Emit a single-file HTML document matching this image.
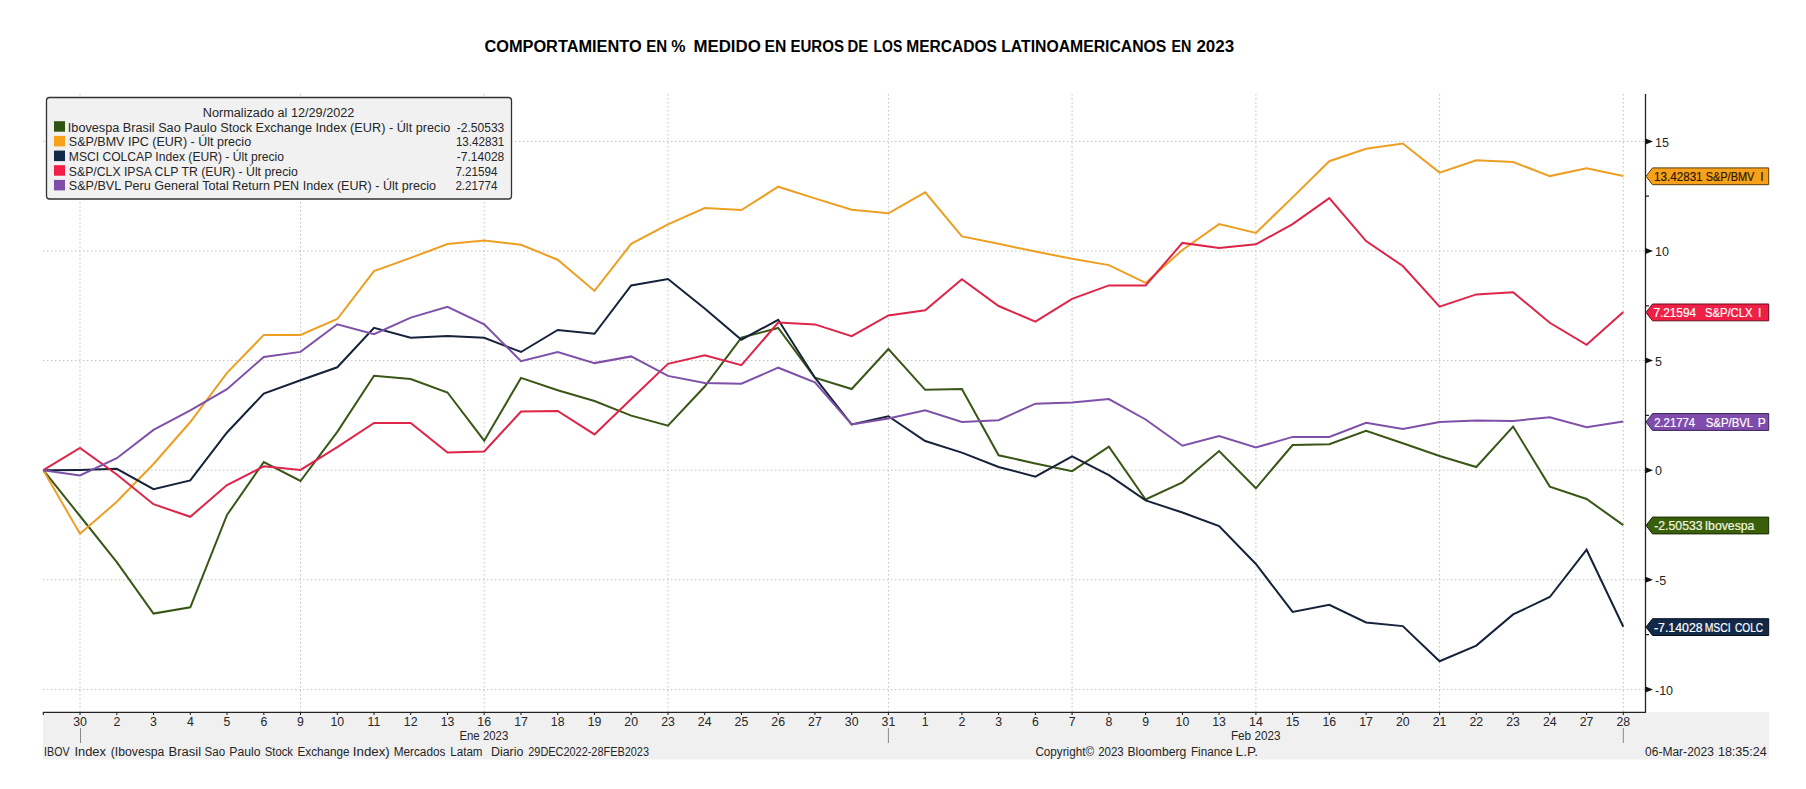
<!DOCTYPE html><html><head><meta charset="utf-8"><style>html,body{margin:0;padding:0;background:#fff;}svg{display:block;}text{font-family:"Liberation Sans",sans-serif;}</style></head><body>
<svg width="1806" height="789" viewBox="0 0 1806 789">
<rect x="0" y="0" width="1806" height="789" fill="#fff"/>
<text x="484.40" y="51.80" font-size="16" font-weight="bold" fill="#000" textLength="157.30" lengthAdjust="spacingAndGlyphs">COMPORTAMIENTO</text>
<text x="646.20" y="51.80" font-size="16" font-weight="bold" fill="#000" textLength="20.90" lengthAdjust="spacingAndGlyphs">EN</text>
<text x="671.20" y="51.80" font-size="16" font-weight="bold" fill="#000">%</text>
<text x="693.40" y="51.80" font-size="16" font-weight="bold" fill="#000" textLength="67.40" lengthAdjust="spacingAndGlyphs">MEDIDO</text>
<text x="764.50" y="51.80" font-size="16" font-weight="bold" fill="#000" textLength="21.80" lengthAdjust="spacingAndGlyphs">EN</text>
<text x="790.40" y="51.80" font-size="16" font-weight="bold" fill="#000" textLength="53.60" lengthAdjust="spacingAndGlyphs">EUROS</text>
<text x="847.60" y="51.80" font-size="16" font-weight="bold" fill="#000" textLength="20.70" lengthAdjust="spacingAndGlyphs">DE</text>
<text x="873.60" y="51.80" font-size="16" font-weight="bold" fill="#000" textLength="28.70" lengthAdjust="spacingAndGlyphs">LOS</text>
<text x="906.20" y="51.80" font-size="16" font-weight="bold" fill="#000" textLength="90.80" lengthAdjust="spacingAndGlyphs">MERCADOS</text>
<text x="1001.20" y="51.80" font-size="16" font-weight="bold" fill="#000" textLength="165.20" lengthAdjust="spacingAndGlyphs">LATINOAMERICANOS</text>
<text x="1171.40" y="51.80" font-size="16" font-weight="bold" fill="#000" textLength="19.90" lengthAdjust="spacingAndGlyphs">EN</text>
<text x="1196.40" y="51.80" font-size="16" font-weight="bold" fill="#000" textLength="37.70" lengthAdjust="spacingAndGlyphs">2023</text>
<rect x="43" y="712" width="1726" height="47.5" fill="#f0f0f0"/>
<path d="M43,141.4H1645 M43,251.0H1645 M43,360.6H1645 M43,470.2H1645 M43,579.8H1645 M43,689.4H1645 M80.0,94V712 M300.5,94V712 M484.2,94V712 M668.0,94V712 M888.4,94V712 M1072.1,94V712 M1255.9,94V712 M1439.6,94V712 M1623.3,94V712" stroke="#c0c0c0" stroke-width="1" stroke-dasharray="1.5,2.5" fill="none"/>
<polyline points="43.3,470.2 80.0,516.0 116.8,562.2 153.5,613.6 190.3,607.3 227.0,515.0 263.8,462.0 300.5,481.0 337.3,431.9 374.0,375.8 410.7,379.0 447.5,392.5 484.2,440.7 521.0,377.9 557.7,390.3 594.5,401.0 631.2,415.6 668.0,425.6 704.7,386.5 741.4,337.6 778.2,328.0 814.9,377.7 851.7,389.0 888.4,349.0 925.2,389.8 961.9,389.0 998.6,455.3 1035.4,463.4 1072.1,471.2 1108.9,446.7 1145.6,499.5 1182.4,482.3 1219.1,451.1 1255.9,488.3 1292.6,445.0 1329.3,444.3 1366.1,430.8 1402.8,443.2 1439.6,456.0 1476.3,467.0 1513.1,426.6 1549.8,486.6 1586.6,499.0 1623.3,525.1" fill="none" stroke="#3a5616" stroke-width="2" stroke-linejoin="miter"/>
<polyline points="43.3,470.2 80.0,533.8 116.8,501.8 153.5,464.0 190.3,422.0 227.0,372.9 263.8,334.9 300.5,334.9 337.3,319.0 374.0,271.1 410.7,257.9 447.5,244.1 484.2,240.5 521.0,244.8 557.7,259.7 594.5,290.9 631.2,243.8 668.0,224.3 704.7,208.0 741.4,210.1 778.2,186.7 814.9,198.4 851.7,209.8 888.4,213.3 925.2,192.4 961.9,236.4 998.6,243.8 1035.4,251.6 1072.1,258.7 1108.9,265.1 1145.6,282.9 1182.4,250.0 1219.1,224.1 1255.9,232.9 1292.6,197.4 1329.3,161.2 1366.1,148.8 1402.8,143.5 1439.6,172.6 1476.3,160.2 1513.1,162.0 1549.8,176.1 1586.6,168.3 1623.3,175.9" fill="none" stroke="#ec9f22" stroke-width="2" stroke-linejoin="miter"/>
<polyline points="43.3,470.2 80.0,469.9 116.8,468.8 153.5,489.2 190.3,480.4 227.0,432.5 263.8,393.5 300.5,380.3 337.3,367.3 374.0,327.9 410.7,337.8 447.5,336.0 484.2,337.8 521.0,352.0 557.7,330.0 594.5,333.8 631.2,285.4 668.0,279.0 704.7,308.4 741.4,339.7 778.2,319.8 814.9,377.7 851.7,424.5 888.4,416.2 925.2,441.0 961.9,452.6 998.6,467.0 1035.4,476.6 1072.1,456.3 1108.9,475.1 1145.6,500.4 1182.4,512.5 1219.1,526.0 1255.9,564.0 1292.6,611.9 1329.3,604.8 1366.1,622.5 1402.8,626.1 1439.6,661.2 1476.3,645.6 1513.1,614.4 1549.8,597.0 1586.6,549.7 1623.3,626.7" fill="none" stroke="#15223a" stroke-width="2" stroke-linejoin="miter"/>
<polyline points="43.3,470.2 80.0,447.9 116.8,474.5 153.5,504.2 190.3,516.8 227.0,485.1 263.8,466.3 300.5,469.9 337.3,447.1 374.0,423.0 410.7,423.0 447.5,452.5 484.2,451.4 521.0,411.6 557.7,410.9 594.5,434.4 631.2,399.0 668.0,363.8 704.7,355.3 741.4,365.2 778.2,322.6 814.9,324.4 851.7,336.1 888.4,315.5 925.2,310.2 961.9,279.3 998.6,306.0 1035.4,321.6 1072.1,298.9 1108.9,285.4 1145.6,285.4 1182.4,242.9 1219.1,247.9 1255.9,244.3 1292.6,224.1 1329.3,198.2 1366.1,241.1 1402.8,266.0 1439.6,306.6 1476.3,294.4 1513.1,292.2 1549.8,322.8 1586.6,344.8 1623.3,312.0" fill="none" stroke="#de2449" stroke-width="2" stroke-linejoin="miter"/>
<polyline points="43.3,470.2 80.0,475.4 116.8,458.2 153.5,429.9 190.3,410.4 227.0,389.2 263.8,356.9 300.5,351.9 337.3,324.3 374.0,334.2 410.7,317.6 447.5,306.9 484.2,324.3 521.0,361.2 557.7,352.0 594.5,363.1 631.2,356.4 668.0,375.9 704.7,383.0 741.4,383.7 778.2,367.7 814.9,382.3 851.7,424.5 888.4,418.4 925.2,410.2 961.9,422.0 998.6,420.2 1035.4,403.7 1072.1,402.6 1108.9,399.1 1145.6,419.5 1182.4,445.7 1219.1,436.1 1255.9,447.5 1292.6,436.9 1329.3,436.9 1366.1,422.7 1402.8,429.0 1439.6,422.0 1476.3,420.5 1513.1,420.9 1549.8,417.3 1586.6,427.3 1623.3,421.6" fill="none" stroke="#7e50a8" stroke-width="2" stroke-linejoin="miter"/>
<path d="M1645.5,94V712.5" stroke="#222" stroke-width="1.3" fill="none"/>
<path d="M43,712.3H1646" stroke="#222" stroke-width="1.3" fill="none"/>
<path d="M43.3,712V715 M80.0,712V715 M116.8,712V715 M153.5,712V715 M190.3,712V715 M227.0,712V715 M263.8,712V715 M300.5,712V715 M337.3,712V715 M374.0,712V715 M410.7,712V715 M447.5,712V715 M484.2,712V715 M521.0,712V715 M557.7,712V715 M594.5,712V715 M631.2,712V715 M668.0,712V715 M704.7,712V715 M741.4,712V715 M778.2,712V715 M814.9,712V715 M851.7,712V715 M888.4,712V715 M925.2,712V715 M961.9,712V715 M998.6,712V715 M1035.4,712V715 M1072.1,712V715 M1108.9,712V715 M1145.6,712V715 M1182.4,712V715 M1219.1,712V715 M1255.9,712V715 M1292.6,712V715 M1329.3,712V715 M1366.1,712V715 M1402.8,712V715 M1439.6,712V715 M1476.3,712V715 M1513.1,712V715 M1549.8,712V715 M1586.6,712V715 M1623.3,712V715" stroke="#222" stroke-width="1.1" fill="none"/>
<text x="80.0" y="725.6" font-size="12.3" fill="#262626" text-anchor="middle">30</text>
<text x="116.8" y="725.6" font-size="12.3" fill="#262626" text-anchor="middle">2</text>
<text x="153.5" y="725.6" font-size="12.3" fill="#262626" text-anchor="middle">3</text>
<text x="190.3" y="725.6" font-size="12.3" fill="#262626" text-anchor="middle">4</text>
<text x="227.0" y="725.6" font-size="12.3" fill="#262626" text-anchor="middle">5</text>
<text x="263.8" y="725.6" font-size="12.3" fill="#262626" text-anchor="middle">6</text>
<text x="300.5" y="725.6" font-size="12.3" fill="#262626" text-anchor="middle">9</text>
<text x="337.3" y="725.6" font-size="12.3" fill="#262626" text-anchor="middle">10</text>
<text x="374.0" y="725.6" font-size="12.3" fill="#262626" text-anchor="middle">11</text>
<text x="410.7" y="725.6" font-size="12.3" fill="#262626" text-anchor="middle">12</text>
<text x="447.5" y="725.6" font-size="12.3" fill="#262626" text-anchor="middle">13</text>
<text x="484.2" y="725.6" font-size="12.3" fill="#262626" text-anchor="middle">16</text>
<text x="521.0" y="725.6" font-size="12.3" fill="#262626" text-anchor="middle">17</text>
<text x="557.7" y="725.6" font-size="12.3" fill="#262626" text-anchor="middle">18</text>
<text x="594.5" y="725.6" font-size="12.3" fill="#262626" text-anchor="middle">19</text>
<text x="631.2" y="725.6" font-size="12.3" fill="#262626" text-anchor="middle">20</text>
<text x="668.0" y="725.6" font-size="12.3" fill="#262626" text-anchor="middle">23</text>
<text x="704.7" y="725.6" font-size="12.3" fill="#262626" text-anchor="middle">24</text>
<text x="741.4" y="725.6" font-size="12.3" fill="#262626" text-anchor="middle">25</text>
<text x="778.2" y="725.6" font-size="12.3" fill="#262626" text-anchor="middle">26</text>
<text x="814.9" y="725.6" font-size="12.3" fill="#262626" text-anchor="middle">27</text>
<text x="851.7" y="725.6" font-size="12.3" fill="#262626" text-anchor="middle">30</text>
<text x="888.4" y="725.6" font-size="12.3" fill="#262626" text-anchor="middle">31</text>
<text x="925.2" y="725.6" font-size="12.3" fill="#262626" text-anchor="middle">1</text>
<text x="961.9" y="725.6" font-size="12.3" fill="#262626" text-anchor="middle">2</text>
<text x="998.6" y="725.6" font-size="12.3" fill="#262626" text-anchor="middle">3</text>
<text x="1035.4" y="725.6" font-size="12.3" fill="#262626" text-anchor="middle">6</text>
<text x="1072.1" y="725.6" font-size="12.3" fill="#262626" text-anchor="middle">7</text>
<text x="1108.9" y="725.6" font-size="12.3" fill="#262626" text-anchor="middle">8</text>
<text x="1145.6" y="725.6" font-size="12.3" fill="#262626" text-anchor="middle">9</text>
<text x="1182.4" y="725.6" font-size="12.3" fill="#262626" text-anchor="middle">10</text>
<text x="1219.1" y="725.6" font-size="12.3" fill="#262626" text-anchor="middle">13</text>
<text x="1255.9" y="725.6" font-size="12.3" fill="#262626" text-anchor="middle">14</text>
<text x="1292.6" y="725.6" font-size="12.3" fill="#262626" text-anchor="middle">15</text>
<text x="1329.3" y="725.6" font-size="12.3" fill="#262626" text-anchor="middle">16</text>
<text x="1366.1" y="725.6" font-size="12.3" fill="#262626" text-anchor="middle">17</text>
<text x="1402.8" y="725.6" font-size="12.3" fill="#262626" text-anchor="middle">20</text>
<text x="1439.6" y="725.6" font-size="12.3" fill="#262626" text-anchor="middle">21</text>
<text x="1476.3" y="725.6" font-size="12.3" fill="#262626" text-anchor="middle">22</text>
<text x="1513.1" y="725.6" font-size="12.3" fill="#262626" text-anchor="middle">23</text>
<text x="1549.8" y="725.6" font-size="12.3" fill="#262626" text-anchor="middle">24</text>
<text x="1586.6" y="725.6" font-size="12.3" fill="#262626" text-anchor="middle">27</text>
<text x="1623.3" y="725.6" font-size="12.3" fill="#262626" text-anchor="middle">28</text>
<path d="M80.5,728V743 M888.4,728V743 M1623.3,728V743" stroke="#888" stroke-width="1" fill="none"/>
<text x="459.40" y="740.40" font-size="12.5" fill="#262626" textLength="48.90" lengthAdjust="spacingAndGlyphs">Ene 2023</text>
<text x="1230.90" y="740.40" font-size="12.5" fill="#262626" textLength="49.70" lengthAdjust="spacingAndGlyphs">Feb 2023</text>
<text x="44.10" y="756.00" font-size="12" fill="#262626" textLength="25.50" lengthAdjust="spacingAndGlyphs">IBOV</text>
<text x="74.40" y="756.00" font-size="12" fill="#262626" textLength="31.60" lengthAdjust="spacingAndGlyphs">Index</text>
<text x="110.80" y="756.00" font-size="12" fill="#262626" textLength="53.60" lengthAdjust="spacingAndGlyphs">(Ibovespa</text>
<text x="168.60" y="756.00" font-size="12" fill="#262626" textLength="32.50" lengthAdjust="spacingAndGlyphs">Brasil</text>
<text x="204.60" y="756.00" font-size="12" fill="#262626" textLength="20.50" lengthAdjust="spacingAndGlyphs">Sao</text>
<text x="229.30" y="756.00" font-size="12" fill="#262626" textLength="31.20" lengthAdjust="spacingAndGlyphs">Paulo</text>
<text x="264.70" y="756.00" font-size="12" fill="#262626" textLength="28.30" lengthAdjust="spacingAndGlyphs">Stock</text>
<text x="297.50" y="756.00" font-size="12" fill="#262626" textLength="52.10" lengthAdjust="spacingAndGlyphs">Exchange</text>
<text x="352.80" y="756.00" font-size="12" fill="#262626" textLength="37.00" lengthAdjust="spacingAndGlyphs">Index)</text>
<text x="393.70" y="756.00" font-size="12" fill="#262626" textLength="51.70" lengthAdjust="spacingAndGlyphs">Mercados</text>
<text x="450.30" y="756.00" font-size="12" fill="#262626" textLength="32.20" lengthAdjust="spacingAndGlyphs">Latam</text>
<text x="490.90" y="756.00" font-size="12" fill="#262626" textLength="32.50" lengthAdjust="spacingAndGlyphs">Diario</text>
<text x="528.30" y="756.00" font-size="12" fill="#262626" textLength="120.70" lengthAdjust="spacingAndGlyphs">29DEC2022-28FEB2023</text>
<text x="1035.40" y="756.00" font-size="12" fill="#262626" textLength="58.70" lengthAdjust="spacingAndGlyphs">Copyright©</text>
<text x="1098.20" y="756.00" font-size="12" fill="#262626" textLength="25.40" lengthAdjust="spacingAndGlyphs">2023</text>
<text x="1127.50" y="756.00" font-size="12" fill="#262626" textLength="58.80" lengthAdjust="spacingAndGlyphs">Bloomberg</text>
<text x="1190.90" y="756.00" font-size="12" fill="#262626" textLength="41.60" lengthAdjust="spacingAndGlyphs">Finance</text>
<text x="1235.60" y="756.00" font-size="12" fill="#262626" textLength="22.40" lengthAdjust="spacingAndGlyphs">L.P.</text>
<text x="1645.00" y="756.00" font-size="12" fill="#262626" textLength="68.90" lengthAdjust="spacingAndGlyphs">06-Mar-2023</text>
<text x="1717.90" y="756.00" font-size="12" fill="#262626" textLength="48.90" lengthAdjust="spacingAndGlyphs">18:35:24</text>
<path d="M1645.5,196.2H1649 M1645.5,305.8H1649 M1645.5,415.4H1649 M1645.5,525.0H1649 M1645.5,634.6H1649" stroke="#222" stroke-width="1.2" fill="none"/>
<path d="M1645.5,138.4L1653,141.4L1645.5,144.4Z" fill="#111"/>
<text x="1655" y="146.6" font-size="12.5" fill="#262626">15</text>
<path d="M1645.5,248.0L1653,251.0L1645.5,254.0Z" fill="#111"/>
<text x="1655" y="256.2" font-size="12.5" fill="#262626">10</text>
<path d="M1645.5,357.6L1653,360.6L1645.5,363.6Z" fill="#111"/>
<text x="1655" y="365.8" font-size="12.5" fill="#262626">5</text>
<path d="M1645.5,467.2L1653,470.2L1645.5,473.2Z" fill="#111"/>
<text x="1655" y="475.4" font-size="12.5" fill="#262626">0</text>
<path d="M1645.5,576.8L1653,579.8L1645.5,582.8Z" fill="#111"/>
<text x="1655" y="585.0" font-size="12.5" fill="#262626">-5</text>
<path d="M1645.5,686.4L1653,689.4L1645.5,692.4Z" fill="#111"/>
<text x="1655" y="694.6" font-size="12.5" fill="#262626">-10</text>
<path d="M1646,176.3L1652.5,167.9H1768.7V184.7H1652.5Z" fill="#f7a01a" stroke="#5a3a08" stroke-width="1"/>
<g stroke="#2a1a00" stroke-width="0.2">
<text x="1654.00" y="180.85" font-size="12" fill="#2a1a00" textLength="48.60" lengthAdjust="spacingAndGlyphs">13.42831</text>
<text x="1705.70" y="180.85" font-size="12" fill="#2a1a00" textLength="48.70" lengthAdjust="spacingAndGlyphs">S&amp;P/BMV</text>
<text x="1760.30" y="180.85" font-size="12" fill="#2a1a00">I</text>
</g>
<path d="M1646,312.4L1652.5,304.0H1768.7V320.8H1652.5Z" fill="#ef1f45" stroke="#6a0a1a" stroke-width="1"/>
<g stroke="#fff" stroke-width="0.2">
<text x="1653.40" y="317.03" font-size="12" fill="#fff" textLength="42.70" lengthAdjust="spacingAndGlyphs">7.21594</text>
<text x="1704.90" y="317.03" font-size="12" fill="#fff" textLength="47.70" lengthAdjust="spacingAndGlyphs">S&amp;P/CLX</text>
<text x="1758.10" y="317.03" font-size="12" fill="#fff">I</text>
</g>
<path d="M1646,422.0L1652.5,413.6H1768.7V430.4H1652.5Z" fill="#7f4cab" stroke="#3a2256" stroke-width="1"/>
<g stroke="#fff" stroke-width="0.2">
<text x="1654.20" y="426.59" font-size="12" fill="#fff" textLength="40.90" lengthAdjust="spacingAndGlyphs">2.21774</text>
<text x="1705.70" y="426.59" font-size="12" fill="#fff" textLength="47.50" lengthAdjust="spacingAndGlyphs">S&amp;P/BVL</text>
<text x="1757.70" y="426.59" font-size="12" fill="#fff">P</text>
</g>
<path d="M1646,525.5L1652.5,517.1H1768.7V533.9H1652.5Z" fill="#3a5f0b" stroke="#1a2a05" stroke-width="1"/>
<g stroke="#f2f6e0" stroke-width="0.2">
<text x="1654.20" y="530.12" font-size="12" fill="#f2f6e0" textLength="48.40" lengthAdjust="spacingAndGlyphs">-2.50533</text>
<text x="1704.70" y="530.12" font-size="12" fill="#f2f6e0" textLength="49.70" lengthAdjust="spacingAndGlyphs">Ibovespa</text>
</g>
<path d="M1646,627.1L1652.5,618.7H1768.7V635.5H1652.5Z" fill="#13294a" stroke="#08111f" stroke-width="1"/>
<g stroke="#fff" stroke-width="0.2">
<text x="1654.00" y="631.71" font-size="12" fill="#fff" textLength="48.60" lengthAdjust="spacingAndGlyphs">-7.14028</text>
<text x="1704.70" y="631.71" font-size="12" fill="#fff" textLength="26.00" lengthAdjust="spacingAndGlyphs">MSCI</text>
<text x="1735.00" y="631.71" font-size="12" fill="#fff" textLength="28.10" lengthAdjust="spacingAndGlyphs">COLC</text>
</g>
<rect x="46.5" y="97.5" width="465" height="101.5" rx="3" ry="3" fill="#f0f0f0" fill-opacity="0.93" stroke="#333" stroke-width="1.3"/>
<text x="202.80" y="116.70" font-size="12" fill="#262626" textLength="151.60" lengthAdjust="spacingAndGlyphs">Normalizado al 12/29/2022</text>
<rect x="54" y="121.2" width="11" height="10.5" fill="#2f5514"/>
<text x="67.80" y="131.70" font-size="12" fill="#262626" textLength="382.50" lengthAdjust="spacingAndGlyphs">Ibovespa Brasil Sao Paulo Stock Exchange Index (EUR) - Últ precio</text>
<text x="456.80" y="131.70" font-size="12" fill="#262626" textLength="47.50" lengthAdjust="spacingAndGlyphs">-2.50533</text>
<rect x="54" y="135.9" width="11" height="10.5" fill="#f7a01a"/>
<text x="68.80" y="146.38" font-size="12" fill="#262626" textLength="182.30" lengthAdjust="spacingAndGlyphs">S&amp;P/BMV IPC (EUR) - Últ precio</text>
<text x="455.90" y="146.38" font-size="12" fill="#262626" textLength="48.40" lengthAdjust="spacingAndGlyphs">13.42831</text>
<rect x="54" y="150.6" width="11" height="10.5" fill="#13294a"/>
<text x="68.80" y="161.05" font-size="12" fill="#262626" textLength="215.10" lengthAdjust="spacingAndGlyphs">MSCI COLCAP Index (EUR) - Últ precio</text>
<text x="456.80" y="161.05" font-size="12" fill="#262626" textLength="47.50" lengthAdjust="spacingAndGlyphs">-7.14028</text>
<rect x="54" y="165.2" width="11" height="10.5" fill="#ef1f45"/>
<text x="68.80" y="175.72" font-size="12" fill="#262626" textLength="229.00" lengthAdjust="spacingAndGlyphs">S&amp;P/CLX IPSA CLP TR (EUR) - Últ precio</text>
<text x="455.40" y="175.72" font-size="12" fill="#262626" textLength="42.10" lengthAdjust="spacingAndGlyphs">7.21594</text>
<rect x="54" y="179.9" width="11" height="10.5" fill="#7f4cab"/>
<text x="68.80" y="190.40" font-size="12" fill="#262626" textLength="367.20" lengthAdjust="spacingAndGlyphs">S&amp;P/BVL Peru General Total Return PEN Index (EUR) - Últ precio</text>
<text x="455.40" y="190.40" font-size="12" fill="#262626" textLength="42.10" lengthAdjust="spacingAndGlyphs">2.21774</text>
</svg></body></html>
